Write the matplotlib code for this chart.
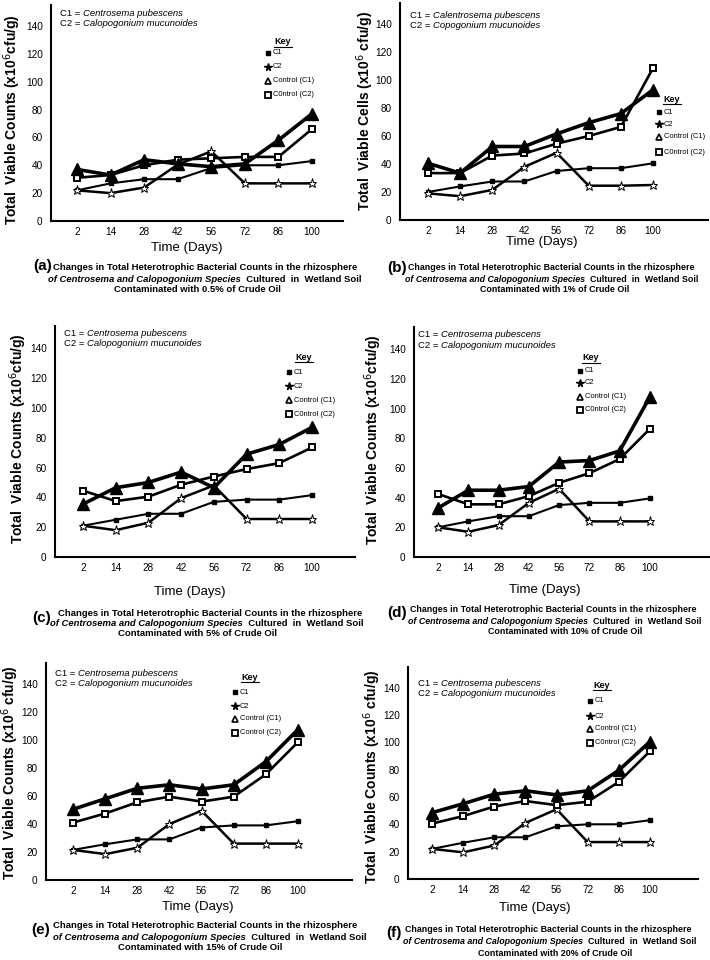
import matplotlib
matplotlib.use('Agg')
import matplotlib.pyplot as plt
from matplotlib.lines import Line2D

plt.rcParams['font.family'] = ['Liberation Sans', 'DejaVu Sans']

W, H = 710, 960

# time points (categorical axis)
days = ['2', '14', '28', '42', '56', '72', '86', '100']
yticks = [0, 20, 40, 60, 80, 100, 120, 140]

# (a) 0.5% crude oil
a_c1 = [22, 27, 30, 30, 38, 40, 40, 43]
a_c2 = [22, 20, 24, 40.5, 50, 27, 27, 27]
a_ctl1 = [37, 33, 44, 41, 39, 41, 58, 77]
a_ctl2 = [31, 33, 40, 44, 45, 46, 46, 66]
# (b) 1%
b_c1 = [20, 24, 27.5, 27.5, 35, 37, 37, 40.5]
b_c2 = [19, 17, 21.5, 38, 48, 24.5, 24.5, 25]
b_ctl1 = [40.5, 33.5, 52.5, 52.5, 61.5, 69.5, 76, 93]
b_ctl2 = [33.5, 33.5, 46, 47.5, 54.5, 60, 66.5, 108.5]
# (c) 5%
c_c1 = [21, 25, 29, 29, 37, 38.5, 38.5, 41.5]
c_c2 = [21, 18, 23, 39.5, 48, 25.5, 25.5, 25.5]
c_ctl1 = [35.5, 46.5, 50, 57, 46.5, 69, 75.5, 87]
c_ctl2 = [44.5, 37.5, 40.5, 48.5, 54, 59, 63, 73.5]
# (d) 10%
d_c1 = [20, 24, 27.5, 27.5, 35, 36.5, 36.5, 39.5]
d_c2 = [20, 17, 21.5, 36.5, 46, 24, 24, 24]
d_ctl1 = [33, 45, 45, 47.5, 64, 65, 71.5, 108]
d_ctl2 = [42.5, 35.5, 35.5, 41, 50, 56.5, 66, 86.5]
# (e) 15%
e_c1 = [21.5, 25.5, 29, 29, 37.5, 39, 39, 42]
e_c2 = [21.5, 18.5, 23, 40, 49.5, 26, 26, 26]
e_ctl1 = [50.5, 58, 65.5, 68, 65, 68, 84.5, 107.5]
e_ctl2 = [41, 47.5, 55.5, 59.5, 56, 59.5, 75.5, 98.5]
# (f) 20%
f_c1 = [22, 26.5, 30.5, 30.5, 38.5, 40, 40, 43]
f_c2 = [22, 19.5, 24.5, 41, 51, 27, 27, 27]
f_ctl1 = [48.5, 55, 62, 64.5, 61.5, 64.5, 79.5, 100.5]
f_ctl2 = [40.5, 46, 53, 57, 54, 56.5, 71, 93.5]

letters = ['(a)', '(b)', '(c)', '(d)', '(e)', '(f)']
oil = ['0.5%', '1%', '5%', '10%', '15%', '20%']
ylabels = ['Total  Viable Counts (x10$^6$cfu/g)',
           'Total  Viable Cells (x10$^6$ cfu/g)',
           'Total  Viable Counts (x10$^6$cfu/g)',
           'Total  Viable Counts (x10$^6$cfu/g)',
           'Total  Viable Counts (x10$^{6}$ cfu/g)',
           'Total  Viable Counts (x10$^{6}$ cfu/g)']
inset1 = ['Centrosema pubescens', 'Calentrosema pubescens'] + ['Centrosema pubescens'] * 4
inset2 = ['Calopogonium mucunoides', 'Copogonium mucunoides'] + ['Calopogonium mucunoides'] * 4
key_ctl2 = ['C0ntrol (C2)'] * 4 + ['Control (C2)', 'C0ntrol (C2)']

data = [(a_c1, a_c2, a_ctl1, a_ctl2), (b_c1, b_c2, b_ctl1, b_ctl2),
        (c_c1, c_c2, c_ctl1, c_ctl2), (d_c1, d_c2, d_ctl1, d_ctl2),
        (e_c1, e_c2, e_ctl1, e_ctl2), (f_c1, f_c2, f_ctl1, f_ctl2)]

# layout in image pixels: axes box (l, t, r, b), first/last tick x,
# ylabel xy, xlabel xy, inset xy, key xy, caption bits
layout = [
    dict(box=(51, 5, 343, 221), tk=(77, 312), yl=(12, 120), xl=(187, 248),
         ins=(60, 14), key=(283, 42), km=268, ky=(53, 67, 81, 95),
         lab=(43, 266), c1=(53, 268), c2=(48, 279), c3=(197, 290), cs=6.8),
    dict(box=(400, 3, 708, 220), tk=(428, 653), yl=(365, 111), xl=(542, 242),
         ins=(410, 15), key=(672, 99), km=659, ky=(112, 124, 137, 152),
         lab=(397, 268), c1=(408, 268), c2=(405, 279), c3=(555, 290), cs=6.4),
    dict(box=(55, 326, 355, 557), tk=(83, 312), yl=(18, 439), xl=(190, 592),
         ins=(64, 334), key=(304, 357), km=289, ky=(372, 386, 400, 414),
         lab=(42, 618), c1=(58, 613), c2=(50, 623), c3=(197, 633), cs=6.8),
    dict(box=(414, 327, 710, 557), tk=(438, 650), yl=(373, 440), xl=(545, 590),
         ins=(418, 335), key=(591, 358), km=580, ky=(371, 383, 397, 410),
         lab=(397, 613), c1=(410, 610), c2=(408, 621), c3=(565, 631), cs=6.4),
    dict(box=(46, 663, 352, 880), tk=(73, 298), yl=(10, 773), xl=(198, 907),
         ins=(55, 673), key=(250, 677), km=235, ky=(692, 706, 719, 733),
         lab=(41, 930), c1=(53, 926), c2=(53, 937), c3=(200, 947), cs=6.8),
    dict(box=(408, 667, 698, 879), tk=(432, 650), yl=(372, 777), xl=(535, 908),
         ins=(418, 683), key=(602, 685), km=590, ky=(701, 716, 729, 743),
         lab=(394, 933), c1=(405, 929), c2=(403, 941), c3=(555, 953), cs=6.4),
]


def fx(px):
    return px / W


def fy(py):
    return 1 - py / H


fig = plt.figure(figsize=(W / 100, H / 100), dpi=100)

for i in range(6):
    L = layout[i]
    c1, c2, ctl1, ctl2 = data[i]
    l, t, r, b = L['box']
    ax = fig.add_axes([fx(l), fy(b), (r - l) / W, (b - t) / H])
    x = list(range(len(days)))

    ax.plot(x, c1, color='black', lw=1.5, marker='s', ms=2.2)
    ax.plot(x, c2, color='black', lw=1.8, marker='*', ms=6.5,
            mfc='white', mec='black', mew=0.7)
    ax.plot(x, ctl2, color='black', lw=1.9, marker='s', ms=4.8,
            mfc='white', mec='black', mew=1.4)
    ax.plot(x, ctl1, color='black', lw=2.6, marker='^', ms=8)

    s = (L['tk'][1] - L['tk'][0]) / 7
    ax.set_xlim(-(L['tk'][0] - l) / s, 7 + (r - L['tk'][1]) / s)
    ax.set_ylim(0, 155)
    ax.set_xticks(x)
    ax.set_xticklabels(days)
    ax.set_yticks(yticks)
    ax.tick_params(length=0, labelsize=7.2, pad=4)
    ax.tick_params(axis='y', pad=6)
    for sp in ['top', 'right']:
        ax.spines[sp].set_visible(False)
    for sp in ['left', 'bottom']:
        ax.spines[sp].set_linewidth(1.5)
    ax.patch.set_alpha(0)

    # axis titles
    fig.text(fx(L['yl'][0]), fy(L['yl'][1]), ylabels[i], rotation=90,
             ha='center', va='center', fontsize=10, fontweight='bold')
    fig.text(fx(L['xl'][0]), fy(L['xl'][1]), 'Time (Days)',
             ha='center', va='center', fontsize=9.5)

    # species note
    ix, iy = L['ins']
    t1 = fig.text(fx(ix), fy(iy), 'C1 = ', ha='left', va='center', fontsize=6.8)
    ax.annotate(inset1[i], xy=(1, 0.5), xycoords=t1, va='center', ha='left',
                fontsize=6.8, style='italic', annotation_clip=False)
    t2 = fig.text(fx(ix), fy(iy + 10), 'C2 = ', ha='left', va='center', fontsize=6.8)
    ax.annotate(inset2[i], xy=(1, 0.5), xycoords=t2, va='center', ha='left',
                fontsize=6.8, style='italic', annotation_clip=False)

    # key
    kx, kyy = L['key']
    fig.text(fx(kx), fy(kyy), 'Key', ha='center', va='center',
             fontsize=6.5, fontweight='bold')
    fig.add_artist(Line2D([fx(kx - 9), fx(kx + 9)], [fy(kyy + 5), fy(kyy + 5)],
                          color='black', lw=0.8))
    names = ['C1', 'C2', 'Control (C1)', key_ctl2[i]]
    marks = [dict(marker='s', ms=2.5, mfc='black'),
             dict(marker='*', ms=5.5, mfc='black'),
             dict(marker='^', ms=5, mfc='white', mew=1.2),
             dict(marker='s', ms=4.5, mfc='white', mew=1.3)]
    for j in range(4):
        fig.add_artist(Line2D([fx(L['km'])], [fy(L['ky'][j])], color='black',
                              mec='black', ls='none', **marks[j]))
        fig.text(fx(L['km'] + 5), fy(L['ky'][j]), names[j], ha='left',
                 va='center', fontsize=5.4)

    # caption
    cs = L['cs']
    fig.text(fx(L['lab'][0]), fy(L['lab'][1]), letters[i], ha='center',
             va='center', fontsize=11, fontweight='bold')
    fig.text(fx(L['c1'][0]), fy(L['c1'][1]),
             'Changes in Total Heterotrophic Bacterial Counts in the rhizosphere',
             ha='left', va='center', fontsize=cs, fontweight='bold')
    p1 = fig.text(fx(L['c2'][0]), fy(L['c2'][1]),
                  'of Centrosema and Calopogonium Species',
                  ha='left', va='center', fontsize=cs, fontweight='bold',
                  style='italic')
    ax.annotate('  Cultured  in  Wetland Soil', xy=(1, 0.5), xycoords=p1,
                ha='left', va='center', fontsize=cs, fontweight='bold',
                annotation_clip=False)
    fig.text(fx(L['c3'][0]), fy(L['c3'][1]),
             'Contaminated with ' + oil[i] + ' of Crude Oil',
             ha='center', va='center', fontsize=cs, fontweight='bold')

fig.savefig('out.png', dpi=100)
